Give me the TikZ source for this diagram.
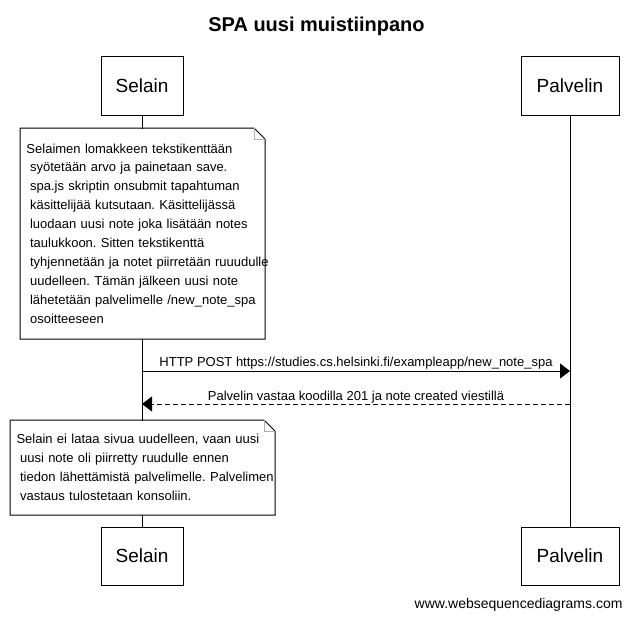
\documentclass[tikz,border=0pt]{standalone}
\usepackage{fontspec}
\setmainfont{Liberation Sans}
\usetikzlibrary{arrows.meta,calc}
\frenchspacing
\begin{document}
\begin{tikzpicture}[x=1pt,y=-1pt,line width=1pt,
  actor/.style={draw,fill=white,minimum height=58pt,inner sep=0pt,font=\fontsize{19}{22}\selectfont},
  note/.style={fill=white,inner xsep=6pt,inner ysep=0pt,align=left,anchor=north west,font=\fontsize{13}{18.9}\selectfont},
  msg/.style={-{Triangle[length=10pt,width=15pt]}},
  reply/.style={msg,dash pattern=on 5pt off 3pt},
  lbl/.style={anchor=base,font=\fontsize{13}{15}\selectfont,inner sep=0pt},
  fold/.style={gray!60,line width=0.8pt}]
\useasboundingbox (0,0) rectangle (632,618);
\fill[white] (0,0) rectangle (632,618);
% title
\node[anchor=base,font=\bfseries\fontsize{20}{24}\selectfont] (title) at (316.5,32) {SPA uusi muistiinpano};
% actors
\node[actor,minimum width=82pt] (selTop) at (142,86) {Selain};
\node[actor,minimum width=98pt] (palTop) at (570,86) {Palvelin};
\node[actor,minimum width=82pt] (selBot) at (142,556) {Selain};
\node[actor,minimum width=98pt] (palBot) at (570,556) {Palvelin};
% lifelines
\draw (selTop) -- (selBot);
\draw (palTop) -- (palBot);
% note 1
\node[note,minimum width=244pt,minimum height=210pt,text width=232pt] (n1) at (20,128) {\mbox{Selaimen lomakkeen tekstikenttään}\\
\mbox{\hspace*{3.6pt}syötetään arvo ja painetaan save.}\\
\mbox{\hspace*{3.6pt}spa.js skriptin onsubmit tapahtuman}\\
\mbox{\hspace*{3.6pt}käsittelijää kutsutaan. Käsittelijässä}\\
\mbox{\hspace*{3.6pt}luodaan uusi note joka lisätään notes}\\
\mbox{\hspace*{3.6pt}taulukkoon. Sitten tekstikenttä}\\
\mbox{\hspace*{3.6pt}tyhjennetään ja notet piirretään ruuudulle}\\
\mbox{\hspace*{3.6pt}uudelleen. Tämän jälkeen uusi note}\\
\mbox{\hspace*{3.6pt}lähetetään palvelimelle /new\_note\_spa}\\
\mbox{\hspace*{3.6pt}osoitteeseen}};
\draw (n1.north west) -- ($(n1.north east)+(-11,0)$) -- ($(n1.north east)+(0,11)$) -- (n1.south east) -- (n1.south west) -- cycle;
\draw[fold] ($(n1.north east)+(-11,0)$) |- ($(n1.north east)+(0,11)$);
% messages
\coordinate (m1s) at (142,371);
\coordinate (m1e) at (570,371);
\coordinate (m2s) at (570,404);
\coordinate (m2e) at (142,404);
\draw[msg] (m1s) -- node[lbl,yshift=5pt] (l1) {HTTP POST https://studies.cs.helsinki.fi/exampleapp/new\_note\_spa} (m1e);
\draw[reply] (m2s) -- node[lbl,yshift=4pt] (l2) {Palvelin vastaa koodilla 201 ja note created viestillä} (m2e);
% note 2
\node[note,minimum width=264pt,minimum height=94pt,text width=252pt] (n2) at (10,420) {\mbox{Selain ei lataa sivua uudelleen, vaan uusi}\\
\mbox{\hspace*{3.6pt}uusi note oli piirretty ruudulle ennen}\\
\mbox{\hspace*{3.6pt}tiedon lähettämistä palvelimelle. Palvelimen}\\
\mbox{\hspace*{3.6pt}vastaus tulostetaan konsoliin.}};
\draw (n2.north west) -- ($(n2.north east)+(-11,0)$) -- ($(n2.north east)+(0,11)$) -- (n2.south east) -- (n2.south west) -- cycle;
\draw[fold] ($(n2.north east)+(-11,0)$) |- ($(n2.north east)+(0,11)$);
% footer
\node[anchor=base east,font=\fontsize{14}{16}\selectfont,inner sep=0pt] (wsd) at (623,608) {www.websequencediagrams.com};
\end{tikzpicture}
\end{document}
